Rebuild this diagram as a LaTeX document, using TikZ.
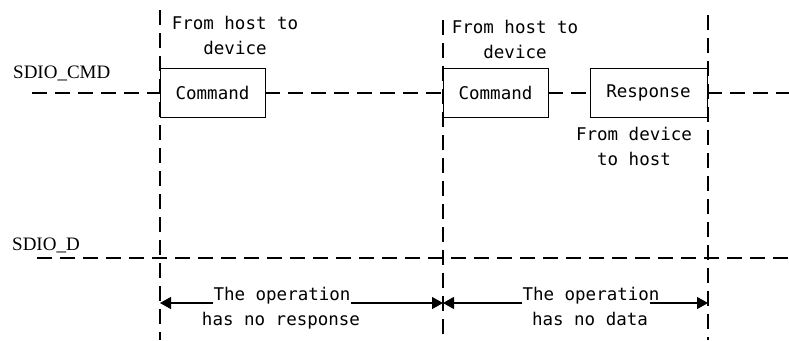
\documentclass[tikz,border=0pt]{standalone}
\usepackage{fontspec}
\usetikzlibrary{arrows.meta}
\newfontfamily\monofnt{DejaVu Sans Mono}
\newfontfamily\sigfnt{Liberation Serif}

\begin{document}
\begin{tikzpicture}[x=1pt, y=-1pt, >={Triangle[length=11pt,width=12pt]},
    bus/.style={line width=1.8pt, dash pattern=on 15pt off 8pt},
    frame/.style={draw, line width=0.9pt, minimum height=49pt, inner sep=0pt,
        font=\monofnt\fontsize{17.5}{20}\selectfont},
    note/.style={align=center, inner sep=0pt, font=\monofnt\fontsize{17.5}{25}\selectfont},
    signame/.style={anchor=base west, inner sep=0pt, font=\sigfnt\fontsize{19}{22}\selectfont}]

    \useasboundingbox (0,0) rectangle (789,340);

    % time markers
    \coordinate (t1top) at (160,10);
    \coordinate (t1bot) at (160,340);
    \coordinate (t2top) at (443,20);
    \coordinate (t2bot) at (443,340);
    \coordinate (t3top) at (708,15);
    \coordinate (t3bot) at (708,340);
    \draw[bus] (t1top) -- (t1bot);
    \draw[bus] (t2top) -- (t2bot);
    \draw[bus] (t3top) -- (t3bot);

    % SDIO_CMD
    \node[signame] (cmdname) at (13,78) {SDIO\_CMD};
    \node[frame, minimum width=105pt] (cmd1) at (212.5,93) {Command};
    \node[frame, minimum width=105pt] (cmd2) at (495.5,93) {Command};
    \node[frame, minimum width=117pt] (resp) at (648.5,93) {Response};
    \coordinate (cmdstart) at (32,93);
    \coordinate (cmdend) at (789,93);
    \draw[bus] (cmdstart) -- (cmd1.west);
    \draw[bus] (cmd1.east) -- (cmd2.west);
    \draw[bus] (cmd2.east) -- (resp.west);
    \draw[bus] (resp.east) -- (cmdend);

    \node[note, anchor=north] (dir1) at (235,16) {From host to\\device};
    \node[note, anchor=north] (dir2) at (515,20) {From host to\\device};
    \node[note, anchor=north] (dir3) at (634,127) {From device\\to host};

    % SDIO_D
    \node[signame] (datname) at (12,250) {SDIO\_D};
    \coordinate (datstart) at (37,258);
    \coordinate (datend) at (789,258);
    \draw[bus] (datstart) -- (datend);

    % operations
    \coordinate (m1) at (160,303);
    \coordinate (m2) at (443,303);
    \coordinate (m3) at (708,303);
    \node[note, anchor=base] (op1top) at (282,300) {The operation};
    \node[note, anchor=base] (op1bot) at (281,325) {has no response};
    \node[note, anchor=base] (op2top) at (591,300) {The operation};
    \node[note, anchor=base] (op2bot) at (590,325) {has no data};
    \draw[->, line width=1.3pt] ([yshift=-3pt]op1top.base west) -- (m1);
    \draw[->, line width=1.3pt] ([yshift=-3pt]op1top.base east) -- (m2);
    \draw[->, line width=1.3pt] ([yshift=-3pt]op2top.base west) -- (m2);
    \draw[->, line width=1.3pt] ([yshift=-3pt,xshift=-10pt]op2top.base east) -- (m3);

\end{tikzpicture}
\end{document}
